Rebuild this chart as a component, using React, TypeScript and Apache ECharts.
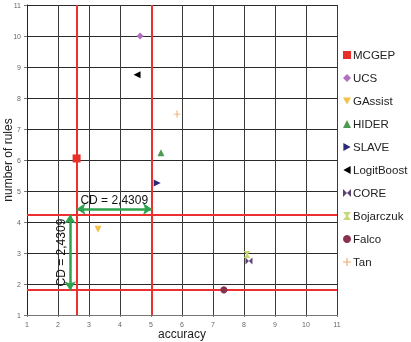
import React, { useEffect, useRef } from "react";
import * as echarts from "echarts";

const names = ["MCGEP", "UCS", "GAssist", "HIDER", "SLAVE", "LogitBoost", "CORE", "Bojarczuk", "Falco", "Tan"];
const accuracy = [2.6, 4.65, 3.29, 5.32, 5.2, 4.55, 8.16, 8.1, 7.35, 5.84];
const rules = [6.05, 10.0, 3.77, 6.23, 5.26, 8.75, 2.74, 2.95, 1.81, 7.48];
const colors = ["#e8302a", "#b070c0", "#f2c24a", "#4e9a52", "#2a2a78", "#000000", "#5a4270", "#c8d874", "#8a3050", "#f0a868"];
const symbols = [
  "rect",
  "diamond",
  "path://M0,0L10,0L5,9Z",
  "triangle",
  "path://M0,0L9,5L0,10Z",
  "path://M9,0L0,5L9,10Z",
  "path://M0,0L5,5L0,10ZM10,0L5,5L10,10Z",
  "path://M0,0L10,0L6,5L10,10L0,10L4,5Z",
  "circle",
  "path://M4.3,0H5.7V4.3H10V5.7H5.7V10H4.3V5.7H0V4.3H4.3Z",
];
const xTicks = [1, 11];
const yTicks = [1, 11];
const cdValue = "CD = 2,4309";
const cdX = [2.6, 5.03];
const cdY = [1.8, 4.23];
const arrowY = 4.42;
const arrowX = 2.39;

export default function App() {
  const ref = useRef<HTMLDivElement>(null);
  useEffect(() => {
    if (!ref.current) return;
    const chart = echarts.init(ref.current, undefined, { renderer: "svg" });
    const font = "Liberation Sans, Arial, sans-serif";
    const pointSeries = names.map((n, i) => ({
      name: n,
      type: "scatter",
      symbol: symbols[i],
      symbolSize: i === 0 ? 8 : 7,
      itemStyle: { color: colors[i], opacity: 1 },
      data: [[accuracy[i], rules[i]]],
      z: 5,
    }));
    chart.setOption({
      animation: false,
      textStyle: { fontFamily: font },
      grid: { left: 27, right: 74, top: 5, bottom: 27, containLabel: false, outerBoundsMode: "none" },
      legend: {
        data: names,
        orient: "vertical",
        left: 338,
        top: 44,
        itemWidth: 8,
        itemHeight: 8,
        itemGap: 11,
        textStyle: { fontSize: 11.5, color: "#222", fontFamily: font, padding: [0, 0, 0, -3] },
      },
      xAxis: {
        type: "value",
        min: xTicks[0],
        max: xTicks[1],
        interval: 1,
        name: "accuracy",
        nameLocation: "middle",
        nameGap: 13,
        nameMoveOverlap: false,
        nameTextStyle: { fontSize: 12, color: "#222", fontFamily: font },
        axisLine: { show: true, lineStyle: { color: "#777", width: 1 } },
        axisTick: { show: true, length: 2, lineStyle: { color: "#777" } },
        axisLabel: { fontSize: 7, color: "#666", margin: 6 },
        splitLine: { show: true, lineStyle: { color: "#3a3a3a", width: 1 } },
      },
      yAxis: {
        type: "value",
        min: yTicks[0],
        max: yTicks[1],
        interval: 1,
        name: "number of rules",
        nameLocation: "middle",
        nameGap: 13,
        nameMoveOverlap: false,
        nameTextStyle: { fontSize: 12, color: "#222", fontFamily: font },
        axisLine: { show: true, lineStyle: { color: "#222", width: 1 } },
        axisTick: { show: true, length: 3, lineStyle: { color: "#777" } },
        axisLabel: { fontSize: 7, color: "#666", margin: 6 },
        splitLine: { show: true, lineStyle: { color: "#2a2a2a", width: 1 } },
      },
      series: [
        {
          type: "scatter",
          data: [],
          silent: true,
          z: 3,
          markLine: {
            silent: true,
            symbol: "none",
            animation: false,
            label: { show: false },
            lineStyle: { color: "#ec2f2f", width: 2, type: "solid" },
            data: [
              { xAxis: cdX[0] },
              { xAxis: cdX[1] },
              { yAxis: cdY[0] },
              { yAxis: cdY[1] },
            ],
          },
        },
        {
          type: "scatter",
          data: [],
          silent: true,
          z: 4,
          markLine: {
            silent: true,
            symbol: ["arrow", "arrow"],
            symbolSize: [9, 9],
            animation: false,
            lineStyle: { color: "#2ea34f", width: 2.5, type: "solid" },
            label: {
              show: true,
              position: "middle",
              formatter: cdValue,
              fontSize: 12,
              color: "#111",
              fontFamily: font,
              distance: 3,
            },
            data: [
              [{ coord: [cdX[0], arrowY] }, { coord: [cdX[1], arrowY] }],
              [{ coord: [arrowX, cdY[0]] }, { coord: [arrowX, cdY[1]] }],
            ],
          },
        },
        ...pointSeries,
      ],
    });
    return () => chart.dispose();
  }, []);
  return <div ref={ref} style={{ position: "fixed", left: 0, top: 0, width: 411, height: 342 }} />;
}
